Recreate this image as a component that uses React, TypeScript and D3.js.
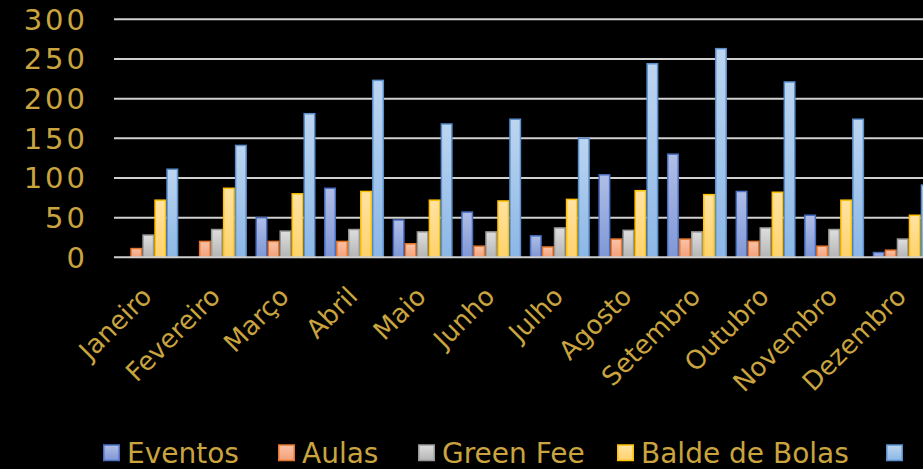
import React from "react";
import * as d3 from "d3";

const months = ["Janeiro","Fevereiro","Março","Abril","Maio","Junho","Julho","Agosto","Setembro","Outubro","Novembro","Dezembro"];
const seriesNames = ["Eventos","Aulas","Green Fee","Balde de Bolas","Total"];
const eventos = [0,0,50,87,47,57,27,104,130,83,53,6];
const aulas = [11,20,20,20,17,14,13,23,23,20,14,9];
const greenFee = [28,35,33,35,32,32,37,34,32,37,35,23];
const baldeBolas = [72,87,80,83,72,71,73,84,79,82,72,53];
const total = [111,141,181,223,168,174,150,244,263,221,174,91];
const yTicks = [0,50,100,150,200,250,300];

const seriesValues = [eventos, aulas, greenFee, baldeBolas, total];
const styles = [
  { top: "#b0bee6", bot: "#7f97d6", stroke: "#4a6fc0" },
  { top: "#f9c2a6", bot: "#f3a07a", stroke: "#e5762c" },
  { top: "#dedede", bot: "#b5b5b5", stroke: "#999999" },
  { top: "#ffe3a3", bot: "#ffd26c", stroke: "#ffc000" },
  { top: "#bcd5f0", bot: "#8cb7e6", stroke: "#5b90cc" },
];
const legendX = [103, 278, 418, 617, 886];
// The last legend label lies beyond the visible page edge in the reference.
const legendLabelVisible = [true, true, true, true, false];
const gold = "#C9A43F";

export default function App() {
  const W = 923, H = 469;
  const plotLeft = 114, plotRight = 937, y0 = 257.3, yTop = 19.3;
  const x = d3.scaleBand<string>().domain(months).range([plotLeft, plotRight]).padding(0);
  const x1 = d3.scaleBand<string>().domain(seriesNames).range([4.3, 64.3]).padding(0);
  const y = d3.scaleLinear().domain([0, 300]).range([y0, yTop]);
  const bw = x1.bandwidth();

  return (
    <svg width={W} height={H} style={{ position: "fixed", left: 0, top: 0, background: "#000" }}
      fontFamily="DejaVu Sans">
      <defs>
        {styles.map((s, i) => (
          <linearGradient key={i} id={`g${i}`} x1="0" y1="0" x2="0" y2="1">
            <stop offset="0" stopColor={s.top} />
            <stop offset="1" stopColor={s.bot} />
          </linearGradient>
        ))}
      </defs>
      <rect x={0} y={0} width={W} height={H} fill="#000" />
      {yTicks.filter(t => t > 0).map(t => (
        <line key={t} x1={plotLeft} x2={W} y1={y(t)} y2={y(t)} stroke="#d0d0d0" strokeWidth={2} />
      ))}
      {yTicks.map(t => (
        <text key={t} x={88} y={y(t)} dy="0.36em" textAnchor="end" fill={gold}
          fontSize={29} letterSpacing={3}>{t}</text>
      ))}
      {months.map((m, mi) => (
        <g key={m} transform={`translate(${x(m)},0)`}>
          {seriesNames.map((s, si) => {
            const v = seriesValues[si][mi];
            if (v <= 0) return null;
            return (
              <rect key={s} x={(x1(s) as number) + 0.75} width={bw - 1.5} y={y(v)} height={y0 - y(v)}
                fill={`url(#g${si})`} stroke={styles[si].stroke} strokeWidth={1.5} />
            );
          })}
        </g>
      ))}
      <line x1={plotLeft} x2={W} y1={y0} y2={y0} stroke="#d0d0d0" strokeWidth={2} />
      {months.map(m => {
        const cx = (x(m) as number) + x.bandwidth() / 2 + 5;
        const cy = 298;
        return (
          <text key={m} x={cx} y={cy} textAnchor="end" fill={gold} fontSize={26}
            transform={`rotate(-45 ${cx} ${cy})`}>{m}</text>
        );
      })}
      {seriesNames.map((s, i) => (
        <g key={s}>
          <rect x={legendX[i] + 0.75} y={445} width={15.5} height={15.5} fill={`url(#g${i})`}
            stroke={styles[i].stroke} strokeWidth={1.5} />
          {legendLabelVisible[i] && (
            <text x={legendX[i] + 24} y={463} fill={gold} fontSize={28}>{s}</text>
          )}
        </g>
      ))}
    </svg>
  );
}
